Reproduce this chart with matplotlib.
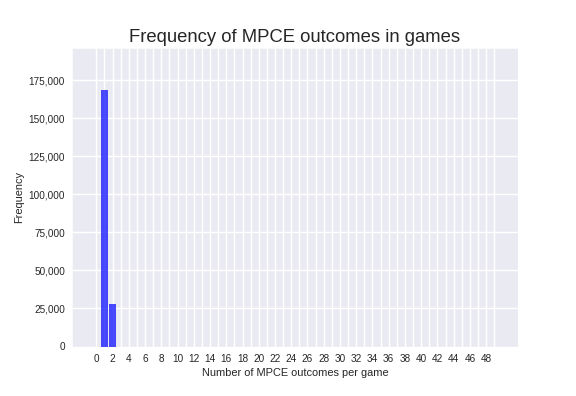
import matplotlib
matplotlib.use('Agg')
import matplotlib.pyplot as plt
import matplotlib.ticker as mticker
import seaborn as sns

sns.set_style('darkgrid')
plt.rcParams['font.family'] = ['Liberation Sans', 'DejaVu Sans']

# outcomes per game (0..49) and their frequency
outcomes = list(range(50))
freq = [0] * 50
freq[1] = 168600
freq[2] = 28050

fig = plt.figure(figsize=(8, 5.5), dpi=72)
ax = fig.add_subplot(111)

ax.bar(outcomes, freq, color='blue', alpha=0.7, width=0.8, linewidth=0)

ax.set_xticks(outcomes)
ax.set_xticklabels([str(i) if i % 2 == 0 else '' for i in outcomes])
ax.set_xlim(-3, 51.9)
ax.set_ylim(0, 196500)
ax.yaxis.set_major_locator(mticker.MultipleLocator(25000))
ax.yaxis.set_major_formatter(mticker.StrMethodFormatter('{x:,.0f}'))
ax.tick_params(labelsize=10, colors='.15')
ax.grid(True, color='white', linewidth=1.4)

ax.set_title('Frequency of MPCE outcomes in games', fontsize=18.5, color='.15')
ax.set_xlabel('Number of MPCE outcomes per game', fontsize=11, color='.15')
ax.set_ylabel('Frequency', fontsize=11, color='.15')

plt.subplots_adjust(left=0.125, right=0.899, bottom=0.125, top=0.88)
plt.savefig('out.png', dpi=72)
